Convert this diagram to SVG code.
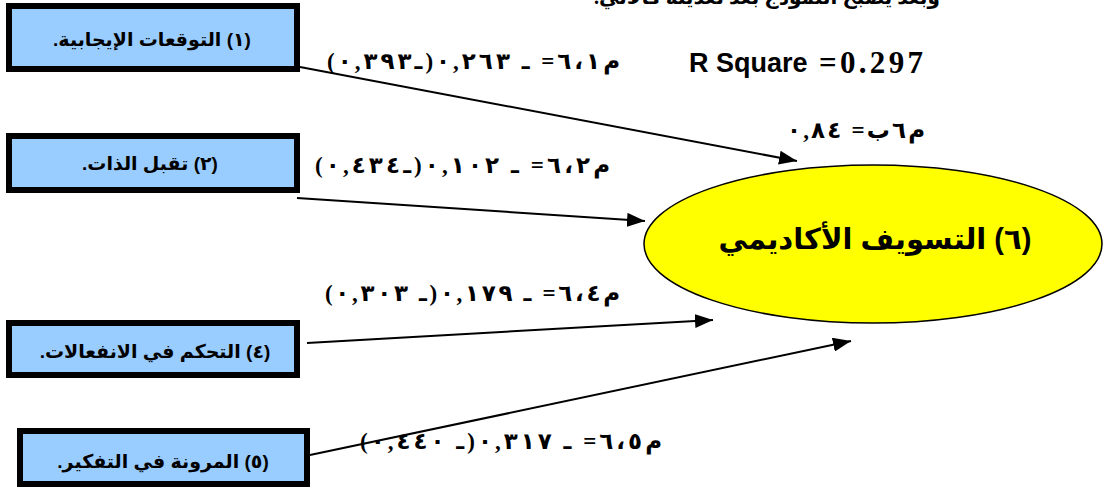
<svg xmlns="http://www.w3.org/2000/svg" width="1108" height="487" viewBox="0 0 1108 487">
<style>
.box{fill:#99ccff;stroke:#000;stroke-width:6}
.bt{font-family:"Liberation Sans","DejaVu Sans",sans-serif;font-weight:bold;font-size:19px;fill:#000;text-anchor:middle}
.lbl{font-family:"Liberation Serif","DejaVu Sans",serif;font-weight:bold;font-size:23px;fill:#000}
.edge{stroke:#000;stroke-width:2;fill:none}
</style>
<defs>
<marker id="ah" markerWidth="20" markerHeight="14" refX="18" refY="7" orient="auto" markerUnits="userSpaceOnUse">
<path d="M0,0 L18,7 L0,14 Z" fill="#000"/>
</marker>
</defs>
<rect width="1108" height="487" fill="#fff"/>
<text x="940" y="4" direction="rtl" style="font-family:'Liberation Serif','DejaVu Sans',serif;font-weight:bold;font-size:20px;text-anchor:start">وبعد يصبح النموذج بعد تعديله كالآتي.</text>

<g id="connectors">
<line class="edge" x1="300" y1="67" x2="797" y2="161" marker-end="url(#ah)"/>
<line class="edge" x1="297" y1="198" x2="645" y2="221" marker-end="url(#ah)"/>
<line class="edge" x1="307" y1="343" x2="713" y2="320" marker-end="url(#ah)"/>
<line class="edge" x1="310" y1="455" x2="851" y2="341" marker-end="url(#ah)"/>
</g>

<g id="n1">
<rect class="box" x="9" y="6" width="288" height="63"/>
<text class="bt" x="152" y="46" direction="rtl">(١) التوقعات الإيجابية.</text>
</g>
<g id="n2">
<rect class="box" x="9" y="136" width="288" height="54"/>
<text class="bt" x="150" y="170" direction="rtl">(٢) تقبل الذات.</text>
</g>
<g id="n4">
<rect class="box" x="9" y="323" width="288" height="52"/>
<text class="bt" x="155" y="358" direction="rtl">(٤) التحكم في الانفعالات.</text>
</g>
<g id="n5">
<rect class="box" x="20" y="431" width="287" height="53"/>
<text class="bt" x="163" y="468" direction="rtl">(٥) المرونة في التفكير.</text>
</g>
<g id="n6">
<ellipse cx="873" cy="244" rx="229" ry="79" fill="#ffff00" stroke="#000" stroke-width="1.5"/>
<text x="875" y="249" direction="rtl" style="font-family:'Liberation Sans','DejaVu Sans',sans-serif;font-weight:bold;font-size:29px;text-anchor:middle">(٦) التسويف الأكاديمي</text>
</g>

<g id="labels">
<text class="lbl" x="327" y="69" textLength="293" lengthAdjust="spacing" unicode-bidi="bidi-override" direction="ltr">(٠,٣٩٣ـ)٠,٢٦٣ ـ =٦،١م</text>
<text class="lbl" x="315" y="173" textLength="295" lengthAdjust="spacing" unicode-bidi="bidi-override" direction="ltr">(٠,٤٣٤ـ)٠,١٠٢ ـ =٦،٢م</text>
<text class="lbl" x="325" y="301" textLength="295" lengthAdjust="spacing" unicode-bidi="bidi-override" direction="ltr">(٠,٣٠٣ ـ)٠,١٧٩ ـ =٦،٤م</text>
<text class="lbl" x="360" y="449" textLength="302" lengthAdjust="spacing" unicode-bidi="bidi-override" direction="ltr">(٠,٤٤٠ ـ)٠,٣١٧ ـ =٦،٥م</text>
<text class="lbl" x="787" y="138" textLength="138" lengthAdjust="spacing" unicode-bidi="bidi-override" direction="ltr">٠,٨٤  =ب٦م</text>
<text x="689" y="72" style="font-family:'Liberation Sans',sans-serif;font-weight:bold;font-size:27px">R Square</text>
<text x="819" y="73" textLength="104" style="font-family:'Liberation Serif',serif;font-weight:bold;font-size:31px">=0.297</text>
</g>
</svg>
